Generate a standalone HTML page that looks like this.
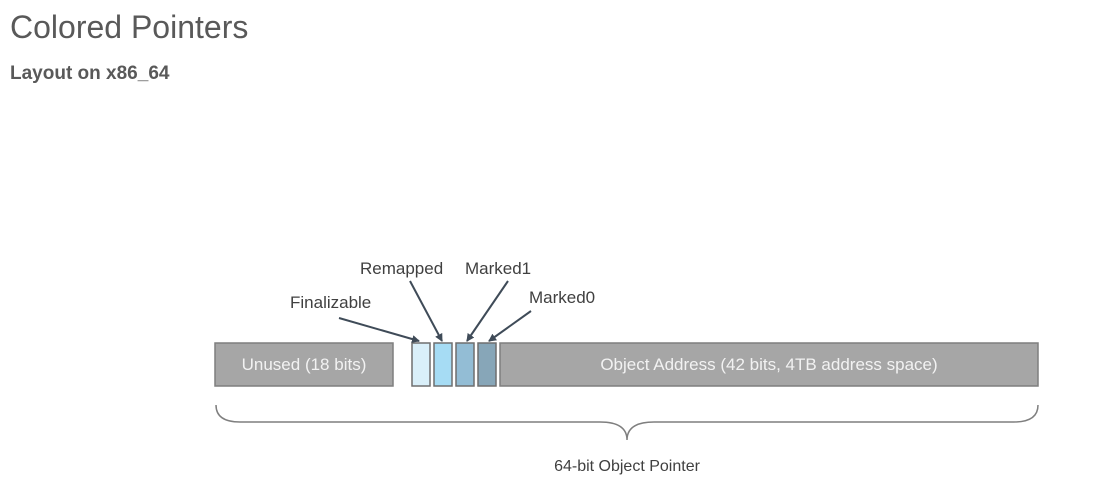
<!DOCTYPE html>
<html><head><style>
body{margin:0;width:1096px;height:498px;background:#fff;overflow:hidden;font-family:"Liberation Sans",sans-serif}
</style></head><body>
<svg width="1096" height="498" xmlns="http://www.w3.org/2000/svg">
<defs><marker id="a" markerWidth="8" markerHeight="8" refX="7" refY="4" orient="auto" markerUnits="userSpaceOnUse"><path d="M0,0 L8,4 L0,8 z" fill="#3f4b58"/></marker></defs>
<text x="10" y="38" font-size="32" fill="#595959">Colored Pointers</text>
<text x="10" y="79" font-size="19" font-weight="bold" fill="#595959">Layout on x86_64</text>
<rect x="215" y="343" width="178" height="43" fill="#a6a6a6" stroke="#7f7f7f" stroke-width="1.5"/>
<text x="304" y="370" font-size="17" fill="#f2f2f2" text-anchor="middle">Unused (18 bits)</text>
<rect x="412" y="343" width="18" height="43" fill="#d9eff9" stroke="#6f6f6f" stroke-width="1.5"/>
<rect x="434" y="343" width="18" height="43" fill="#a6dcf4" stroke="#6f6f6f" stroke-width="1.5"/>
<rect x="456" y="343" width="18" height="43" fill="#93bdd5" stroke="#6f6f6f" stroke-width="1.5"/>
<rect x="478" y="343" width="18" height="43" fill="#87a6b8" stroke="#6f6f6f" stroke-width="1.5"/>
<rect x="500" y="343" width="538" height="43" fill="#a6a6a6" stroke="#7f7f7f" stroke-width="1.5"/>
<text x="769" y="370" font-size="17" fill="#f2f2f2" text-anchor="middle">Object Address (42 bits, 4TB address space)</text>
<g font-size="17" fill="#404040">
<text x="290" y="308">Finalizable</text>
<text x="360" y="274">Remapped</text>
<text x="465" y="274">Marked1</text>
<text x="529" y="303">Marked0</text>
</g>
<g stroke="#3f4b58" stroke-width="2" marker-end="url(#a)">
<line x1="339" y1="318" x2="419" y2="341"/>
<line x1="410" y1="281" x2="442" y2="341"/>
<line x1="508" y1="281" x2="467" y2="341"/>
<line x1="531" y1="311" x2="489" y2="341"/>
</g>
<path d="M216,405 Q216,422 240,422 L600,422 Q627,422 627,440 Q627,422 654,422 L1014,422 Q1038,422 1038,405" fill="none" stroke="#7f7f7f" stroke-width="1.5"/>
<text x="627" y="471" font-size="16" fill="#404040" text-anchor="middle">64-bit Object Pointer</text>
</svg>
</body></html>
